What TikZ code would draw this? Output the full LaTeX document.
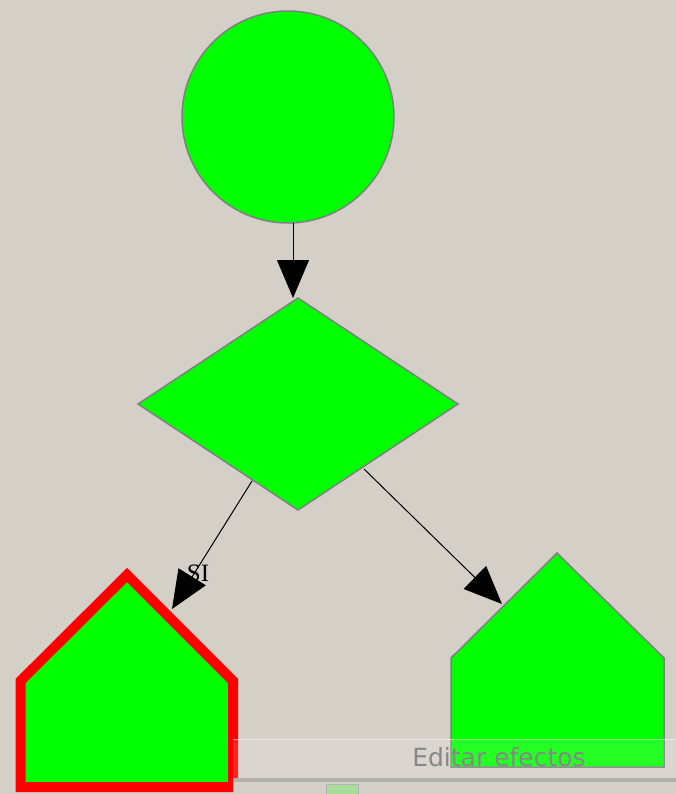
\documentclass[tikz,border=0pt]{standalone}
\usepackage{fontspec}
\setmainfont{Liberation Serif}
\newfontfamily\uifont{DejaVu Sans}
\usetikzlibrary{shapes.geometric,arrows.meta,calc}
\definecolor{bg}{RGB}{212,208,200}
\definecolor{shapegreen}{RGB}{0,255,0}
\definecolor{edgegray}{RGB}{128,128,128}
\definecolor{uitext}{RGB}{135,135,135}
\definecolor{paleg}{RGB}{166,221,152}
\tikzset{
  shapestyle/.style={fill=shapegreen, draw=edgegray, line width=1.5pt},
  arr/.style={draw=black, line width=1pt, -{Triangle[length=38pt,width=32pt]}},
  selected/.style={fill=shapegreen, draw=red, line width=10pt, line join=miter},
}
\begin{document}
\begin{tikzpicture}[x=1pt,y=-1pt]
  \fill[bg] (0,0) rectangle (676,794);
  \useasboundingbox (0,0) rectangle (676,794);

  % start circle
  \node[shapestyle, circle, minimum size=212pt, inner sep=0pt, outer sep=0pt] (start) at (288,117) {};
  % decision diamond
  \node[shapestyle, diamond, minimum width=320pt, minimum height=212pt, inner sep=0pt, outer sep=0pt] (dec) at (298,404) {};

  % left house (selected)
  \draw[selected] (127,575) -- (233,681) -- (233,787) -- (20.5,787) -- (20.5,681) -- cycle;
  \coordinate (lefttip) at (172,609);
  % right house
  \draw[shapestyle] (557,553) -- (664,658) -- (664,767) -- (451,767) -- (451,658) -- cycle;
  \coordinate (righttip) at (502,604);

  % connectors
  \coordinate (s1) at ($(start.south)+(5,0)$);
  \coordinate (e1) at ($(dec.north)+(-5,0)$);
  \draw[arr] (s1) -- (e1);
  \coordinate (s2) at (252,481);
  \draw[arr] (s2) -- (lefttip);
  \coordinate (s3) at (364,469);
  \draw[arr] (s3) -- (righttip);
  \node[font=\fontsize{25}{25}\selectfont, inner sep=0pt] (si) at (198,573) {SI};

  % UI overlay at the bottom
  \fill[white, opacity=0.14] (233,739) rectangle (676,779);
  \draw[white, opacity=0.45, line width=1.5pt] (233,739.5) -- (676,739.5);
  \node[font=\uifont\fontsize{25}{25}\selectfont, text=uitext, inner sep=0pt] (fx) at (499,757) {Editar efectos};
  \fill[bg!85!black] (233,778) rectangle (676,781.5);
  \fill[bg] (233,781.5) rectangle (676,794);
  \draw[edgegray!60, line width=1pt, fill=paleg] (326,784) rectangle (358,796);
\end{tikzpicture}
\end{document}
